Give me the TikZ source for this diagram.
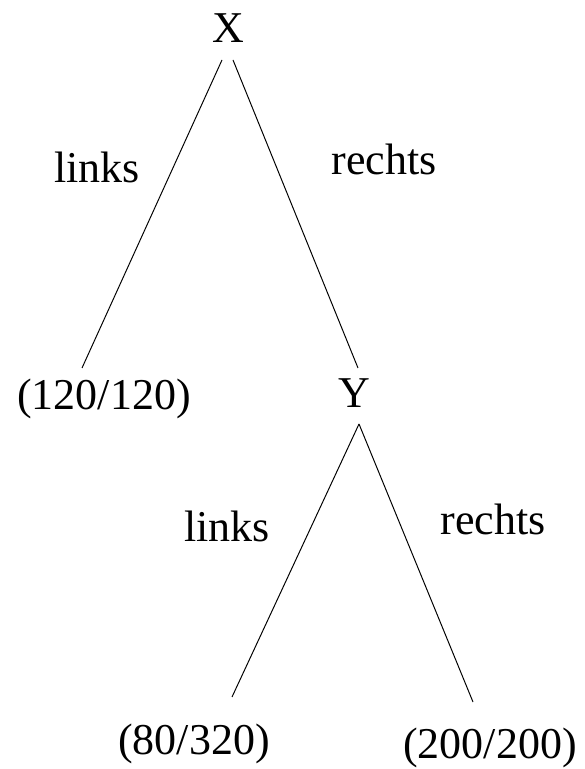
\documentclass[tikz,border=0pt]{standalone}
\usepackage{fontspec}
\setmainfont{Liberation Serif}
\begin{document}
\begin{tikzpicture}[every node/.style={inner sep=0pt,anchor=base,font=\fontsize{31.3}{36}\selectfont},
  branch/.style={line width=0.7pt}]
\useasboundingbox (0,0) rectangle (14.6,19.225);

\node (X) at (5.70,18.15) {X};
\node (n120) at (2.60,8.975) {(120/120)};
\node (Y) at (8.85,9.025) {Y};
\node (n80) at (4.85,0.35) {(80/320)};
\node (n200) at (12.25,0.275) {(200/200)};

\draw[branch] ([shift={(-0.15,-0.425)}]X.base) -- ([shift={(-0.55,1.05)}]n120.base);
\draw[branch] ([shift={(0.125,-0.425)}]X.base) -- ([shift={(0.10,1.0)}]Y.base);
\draw[branch] ([shift={(0.125,-0.40)}]Y.base) -- ([shift={(0.95,1.45)}]n80.base);
\draw[branch] ([shift={(0.125,-0.40)}]Y.base) -- ([shift={(-0.425,1.40)}]n200.base);

\node (linksX) at (2.425,14.65) {links};
\node (rechtsX) at (9.60,14.85) {rechts};
\node (linksY) at (5.675,5.675) {links};
\node (rechtsY) at (12.325,5.85) {rechts};
\end{tikzpicture}
\end{document}
